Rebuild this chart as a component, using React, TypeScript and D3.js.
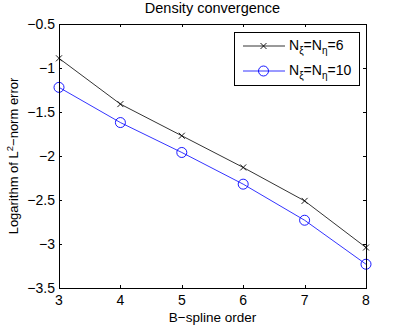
import * as d3 from "d3";
import { useRef, useEffect } from "react";

const orders = [3, 4, 5, 6, 7, 8];
const errN6 = [-0.89, -1.41, -1.77, -2.13, -2.51, -3.04];
const errN10 = [-1.22, -1.62, -1.96, -2.32, -2.73, -3.23];
const yTicks = [-0.5, -1, -1.5, -2, -2.5, -3, -3.5];

function App() {
  const svgRef = useRef(null);

  useEffect(() => {
    const WIDTH = 404;
    const HEIGHT = 327;
    const m = { left: 59, right: 366, top: 24, bottom: 288 };
    const font = "'Liberation Sans', Arial, sans-serif";
    const fs = 14;

    const svg = d3.select(svgRef.current);
    svg.selectAll("*").remove();
    svg.attr("width", WIDTH).attr("height", HEIGHT);

    const x = d3.scaleLinear().domain([3, 8]).range([m.left, m.right]);
    const y = d3.scaleLinear().domain([-3.5, -0.5]).range([m.bottom, m.top]);

    svg.append("rect")
      .attr("width", WIDTH).attr("height", HEIGHT).attr("fill", "white");

    // ticks inward on all four sides
    const tickLen = 3;
    const g = svg.append("g").attr("stroke", "black").attr("stroke-width", 1);
    orders.forEach((v) => {
      const px = Math.round(x(v)) + 0.5;
      g.append("line").attr("x1", px).attr("x2", px).attr("y1", m.bottom).attr("y2", m.bottom - tickLen);
      g.append("line").attr("x1", px).attr("x2", px).attr("y1", m.top).attr("y2", m.top + tickLen);
    });
    yTicks.forEach((v) => {
      const py = Math.round(y(v)) + 0.5;
      g.append("line").attr("x1", m.left).attr("x2", m.left + tickLen).attr("y1", py).attr("y2", py);
      g.append("line").attr("x1", m.right).attr("x2", m.right - tickLen).attr("y1", py).attr("y2", py);
    });

    const fmt = (v) => (v < 0 ? "\u2212" + Math.abs(v) : String(v));

    svg.append("g").selectAll("text")
      .data(orders)
      .join("text")
      .attr("x", (d) => x(d))
      .attr("y", m.bottom + 17)
      .attr("text-anchor", "middle")
      .attr("font-family", font)
      .attr("font-size", fs)
      .text((d) => d);

    svg.append("g").selectAll("text")
      .data(yTicks)
      .join("text")
      .attr("x", m.left - 4)
      .attr("y", (d) => y(d) + 5)
      .attr("text-anchor", "end")
      .attr("font-family", font)
      .attr("font-size", fs)
      .text((d) => fmt(d));

    const line = d3.line().x((d) => x(d[0])).y((d) => y(d[1]));
    const series = [
      { values: errN6, color: "black", marker: "x", sub: "6" },
      { values: errN10, color: "#0000ff", marker: "o", sub: "10" },
    ];

    series.forEach((s) => {
      const pts = orders.map((o, i) => [o, s.values[i]]);
      svg.append("path")
        .attr("d", line(pts))
        .attr("fill", "none")
        .attr("stroke", s.color)
        .attr("stroke-width", 0.8);
      pts.forEach((p) => drawMarker(svg, s.marker, x(p[0]), y(p[1]), s.color));
    });

    svg.append("rect")
      .attr("x", m.left + 0.5).attr("y", m.top + 0.5)
      .attr("width", m.right - m.left).attr("height", m.bottom - m.top)
      .attr("fill", "none").attr("stroke", "black").attr("stroke-width", 1);

    // legend
    const lg = svg.append("g");
    lg.append("rect")
      .attr("x", 234.5).attr("y", 32.5).attr("width", 125).attr("height", 53)
      .attr("fill", "white").attr("stroke", "black");
    series.forEach((s, i) => {
      const ly = 46 + i * 25;
      lg.append("line").attr("x1", 243).attr("x2", 285).attr("y1", ly).attr("y2", ly)
        .attr("stroke", s.color).attr("stroke-width", 0.8);
      drawMarker(lg, s.marker, 263.5, ly, s.color);
      const t = lg.append("text").attr("x", 289).attr("y", ly + 4)
        .attr("font-family", font).attr("font-size", fs);
      t.append("tspan").text("N");
      t.append("tspan").attr("dy", 4).attr("font-size", 10).text("\u03be");
      t.append("tspan").attr("dy", -4).text("=N");
      t.append("tspan").attr("dy", 4).attr("font-size", 10).text("\u03b7");
      t.append("tspan").attr("dy", -4).text("=" + s.sub);
    });

    svg.append("text")
      .attr("x", (m.left + m.right) / 2).attr("y", 13)
      .attr("text-anchor", "middle").attr("font-family", font).attr("font-size", 14.5)
      .text("Density convergence");

    svg.append("text")
      .attr("x", (m.left + m.right) / 2).attr("y", 322)
      .attr("text-anchor", "middle").attr("font-family", font).attr("font-size", 13.5)
      .text("B\u2212spline order");

    const yl = svg.append("text")
      .attr("transform", `translate(18, ${(m.top + m.bottom) / 2}) rotate(-90)`)
      .attr("text-anchor", "middle").attr("font-family", font).attr("font-size", 13);
    yl.append("tspan").text("Logarithm of L");
    yl.append("tspan").attr("dy", -5).attr("font-size", 9.5).text("2");
    yl.append("tspan").attr("dy", 5).text("\u2212norm error");
  }, []);

  return (
    <div>
      <svg ref={svgRef} style={{ display: "block", position: "absolute", left: 0, top: 0 }} />
    </div>
  );
}

function drawMarker(sel, kind, cx, cy, color) {
  if (kind === "x") {
    const r = 3;
    sel.append("path")
      .attr("d", `M${cx - r},${cy - r}L${cx + r},${cy + r}M${cx - r},${cy + r}L${cx + r},${cy - r}`)
      .attr("stroke", color).attr("stroke-width", 0.9).attr("fill", "none");
  } else {
    sel.append("circle")
      .attr("cx", cx).attr("cy", cy).attr("r", 5)
      .attr("stroke", color).attr("stroke-width", 0.9).attr("fill", "none");
  }
}

export default App;
